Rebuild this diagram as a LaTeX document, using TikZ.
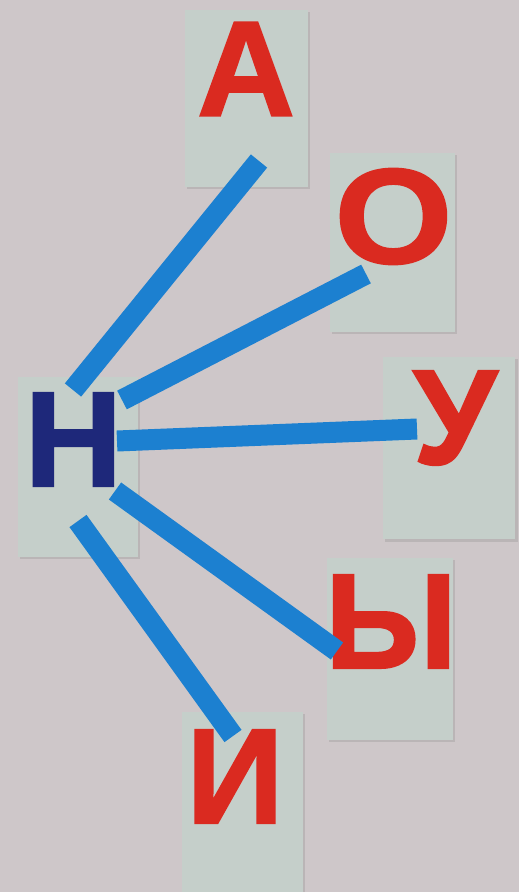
\documentclass[tikz,border=0pt]{standalone}
\usepackage{fontspec}
\newfontfamily\cardfont{Liberation Sans Bold}[FakeBold=1.5]
\usetikzlibrary{positioning}
\usetikzlibrary{shadows}
\definecolor{wall}{RGB}{206,199,201}
\definecolor{cardgray}{RGB}{197,207,202}
\definecolor{stripblue}{RGB}{28,128,208}
\definecolor{darkblue}{RGB}{30,40,122}
\definecolor{lettred}{RGB}{218,42,32}

\begin{document}
\begin{tikzpicture}[
            x = 0.02cm, y = -0.02cm, % one unit is one pixel of the photo
            card/.style = {
                fill = cardgray,
                inner sep = 0pt,
                drop shadow = {shadow xshift=1.2pt, shadow yshift=-1.2pt, opacity=0.25}
            },
            letter/.style = {
                inner sep = 0pt,
                font = \fontsize{77}{77}\cardfont,
                text = lettred
            },
            strip/.style = {
                draw = stripblue,
                line width = 0.42cm
            }
        ]

        % wall
        \fill[wall] (0,0) rectangle (519,892);
        \useasboundingbox (0,0) rectangle (519,892);

        % cards
        \node[card, minimum width=2.40cm, minimum height=3.60cm] (cN) at (78,467) {};
        \node[card, minimum width=2.46cm, minimum height=3.54cm] (cA) at (246.5,98.5) {};
        \node[card, minimum width=2.50cm, minimum height=3.58cm] (cO) at (392.5,242.5) {};
        \node[card, minimum width=2.66cm, minimum height=3.66cm] (cU) at (449,448) {};
        \node[card, minimum width=2.52cm, minimum height=3.64cm] (cY) at (390,649) {};
        \node[card, minimum width=2.42cm, minimum height=3.60cm] (cI) at (242.5,802) {};

        % letters
        \node[letter, text=darkblue] (N) at (73.5,439.5) {Н};
        \node[letter] (A) at (246,69) {А};
        \node[letter, xscale=1.12] (O) at (393.5,216.5) {О};
        \node[letter] (U) at (455,418) {У};
        \node[letter] (Y) at (391,621.5) {Ы};
        \node[letter] (I) at (235,776.5) {И};

        % strip ends
        \coordinate (nA) at (73,390);
        \coordinate (eA) at (259,161);
        \coordinate (nO) at (122,400);
        \coordinate (eO) at (366,274);
        \coordinate (nU) at (117,441);
        \coordinate (eU) at (417,429);
        \coordinate (nY) at (115,491);
        \coordinate (eY) at (337,651);
        \coordinate (nI) at (78,521);
        \coordinate (eI) at (233,736);

        % strips
        \draw[strip] (nA) -- (eA);
        \draw[strip] (nO) -- (eO);
        \draw[strip] (nU) -- (eU);
        \draw[strip] (nY) -- (eY);
        \draw[strip] (nI) -- (eI);

\end{tikzpicture}
\end{document}
